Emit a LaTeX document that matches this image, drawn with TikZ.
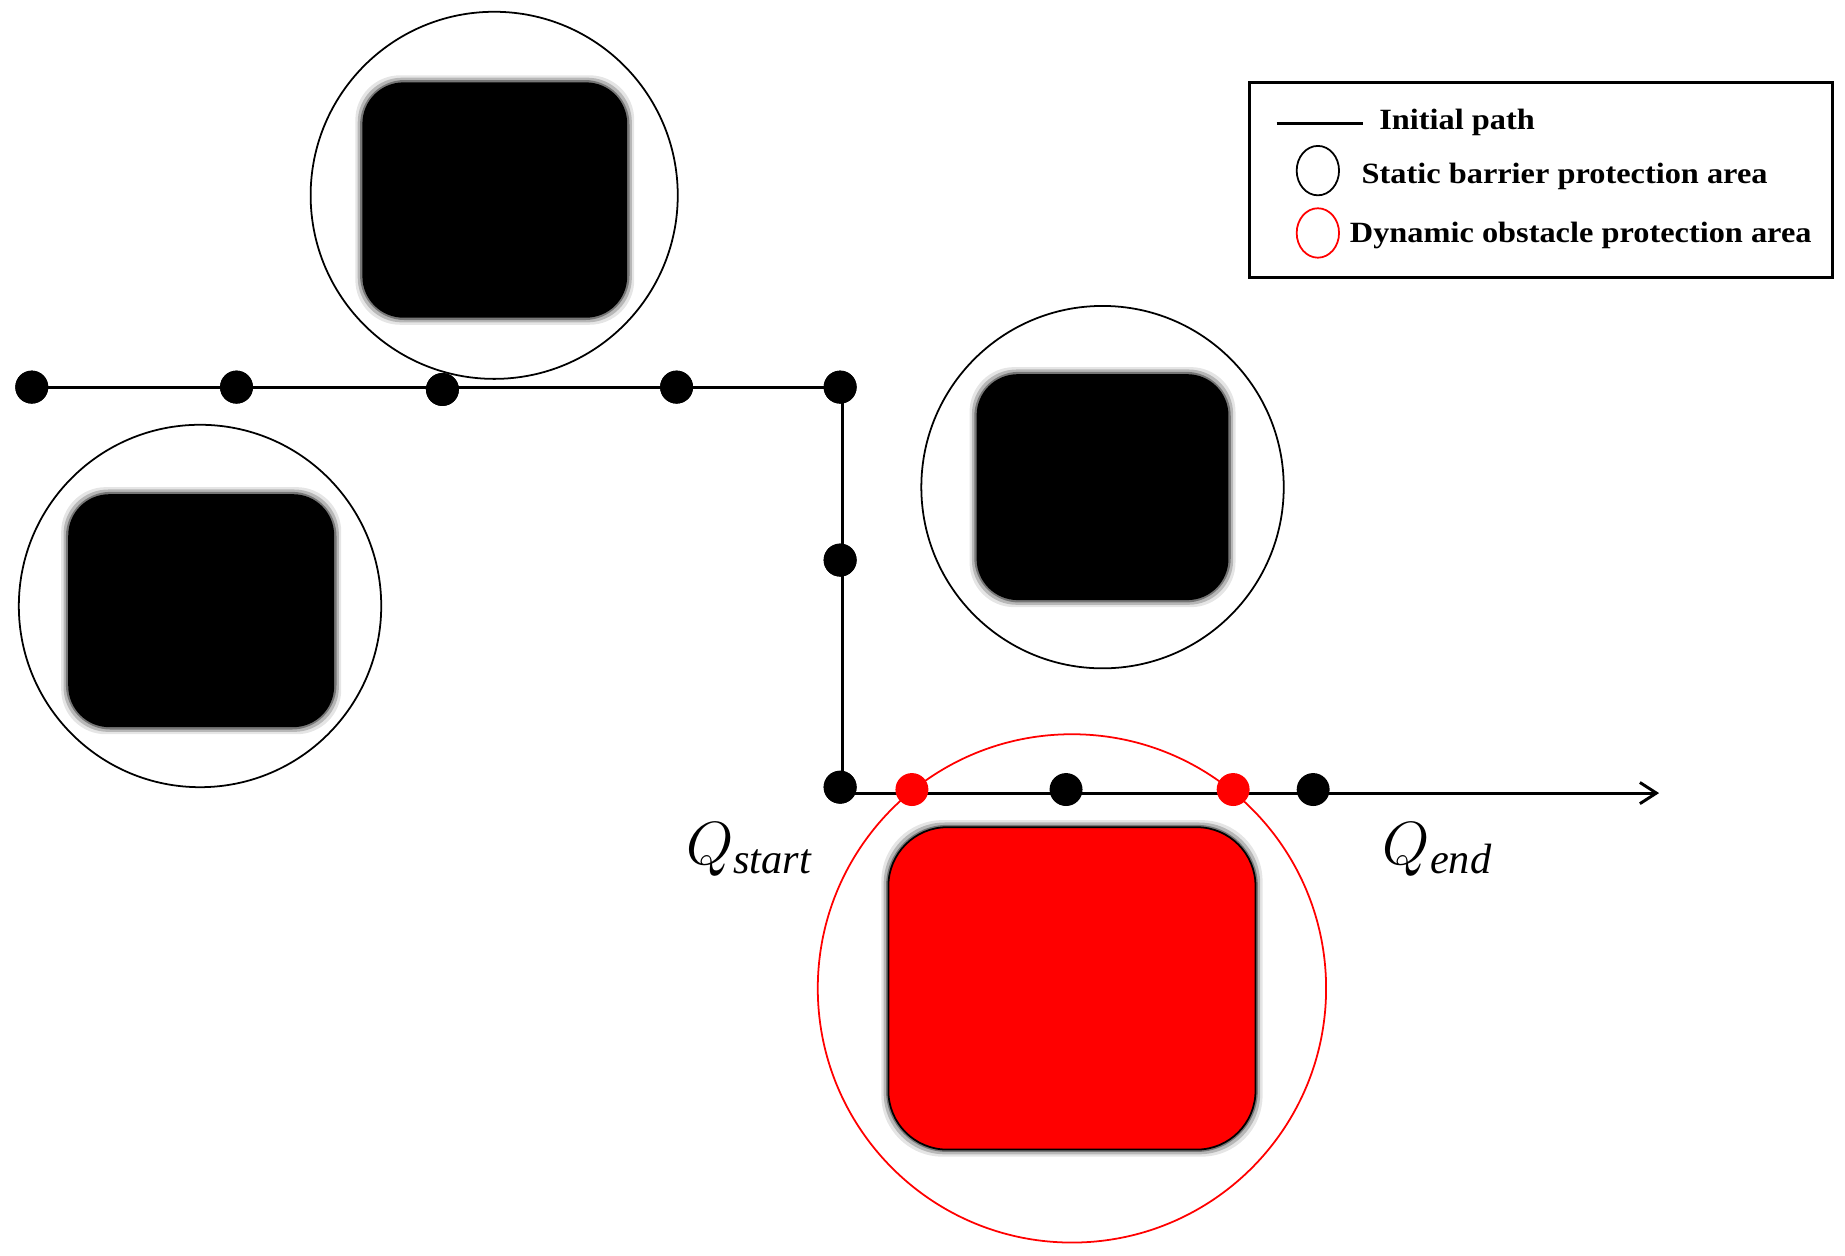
\documentclass[tikz,border=0pt]{standalone}
\usepackage{fontspec}
\setmainfont{Liberation Serif}
\usetikzlibrary{arrows.meta}
\begin{document}
\begin{tikzpicture}[x=1pt,y=-1pt,
  dot/.style={circle,fill=black,inner sep=0pt,minimum size=28pt},
  rdot/.style={circle,fill=red,inner sep=0pt,minimum size=28pt},
  zone/.style={draw=black,line width=1.5pt},
  leg/.style={font=\bfseries\fontsize{25}{27}\selectfont,anchor=west,inner sep=0pt,xscale=1.1}]
\useasboundingbox (0,0) rectangle (1568,1067);
% obstacles
\newcommand{\obst}[4]{%
  \foreach \k/\o in {6/0.1,4/0.2,2/0.35}{\fill[black,opacity=\o,rounded corners=38pt] (#1-\k,#2-\k) rectangle (#3+\k,#4+\k);}
  \fill[black,rounded corners=35pt] (#1,#2) rectangle (#3,#4);}
\draw[zone] (420,166) circle (156);
\obst{308}{70}{533}{270}
\draw[zone] (170,515) circle (154);
\obst{58}{420}{284}{618}
\draw[zone] (937,414) circle (154);
\obst{830}{318}{1044}{510}
\draw[red,line width=1.5pt] (911,840) circle (216);
\foreach \k/\o in {6/0.1,4/0.2,2/0.35}{\fill[black,opacity=\o,rounded corners=52pt] (755-\k,703-\k) rectangle (1067+\k,977+\k);}
\draw[fill=red,line width=1.5pt,rounded corners=50pt] (755,703) rectangle (1067,977);
% path
\node[dot] (p1) at (27,329) {};
\node[dot] (p2) at (201,329) {};
\node[dot] (p3) at (376,331) {};
\node[dot] (p4) at (575,329) {};
\node[dot] (p5) at (714,329) {};
\node[dot] (p6) at (714,476) {};
\node[dot] (p7) at (714,669) {};
\coordinate (c5) at (716,329);
\coordinate (c7) at (716,674);
\coordinate (e) at (1410,674);
\draw[line width=2.5pt] (p1.center) -- (p5.center);
\draw[line width=2.5pt] (c5) -- (c7);
\draw[line width=2.5pt,-{Straight Barb[length=14pt,width=18pt,line width=2.5pt]}] (c7) -- (e);
\node[dot] at (p1) {};\node[dot] at (p2) {};\node[dot] at (p3) {};\node[dot] at (p4) {};
\node[dot] at (p5) {};\node[dot] at (p6) {};\node[dot] at (p7) {};
\node[rdot] (r1) at (775,671) {};
\node[dot] (q1) at (906,671) {};
\node[rdot] (r2) at (1048,671) {};
\node[dot] (q2) at (1116,671) {};
\node (qs) at (637,722) {\scalebox{3}{\LARGE$Q_{\mathit{start}}$}};
\node (qe) at (1222,722) {\scalebox{3}{\LARGE$Q_{\mathit{end}}$}};
% legend
\draw[line width=2.5pt] (1062,70) rectangle (1557,236);
\coordinate (l1) at (1085,105); \coordinate (l2) at (1158,105);
\draw[line width=3pt] (l1) -- (l2);
\node[leg] (t1) at (1172,104) {Initial path};
\draw[line width=1.5pt] (1120,145) ellipse (18 and 21);
\node[leg] (t2) at (1157,150) {Static barrier protection area};
\draw[red,line width=1.5pt] (1120,198) ellipse (18 and 21);
\node[leg] (t3) at (1147,200) {Dynamic obstacle protection area};
\end{tikzpicture}
\end{document}
